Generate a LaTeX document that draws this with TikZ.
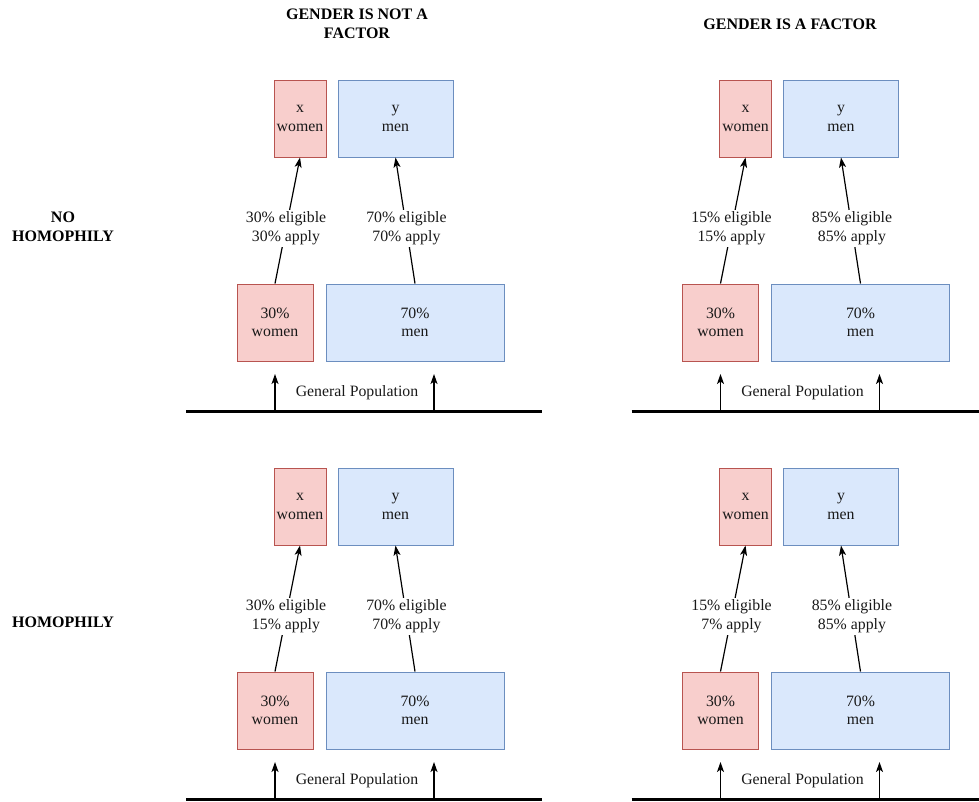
\documentclass[tikz,border=0pt]{standalone}
\usepackage{fontspec}
\setmainfont{Liberation Serif}
\usetikzlibrary{arrows.meta}
\definecolor{redfill}{HTML}{F8CECC}
\definecolor{redline}{HTML}{B85450}
\definecolor{bluefill}{HTML}{DAE8FC}
\definecolor{blueline}{HTML}{6C8EBF}
\tikzset{
  x=1pt, y=1pt,
  txt/.style={font=\fontsize{15.8}{18.5}\selectfont, align=center, text=black!90},
  hdr/.style={font=\fontsize{16}{18.5}\selectfont\bfseries, align=center},
  rbox/.style={draw=redline, fill=redfill, line width=1pt, inner sep=0pt, txt},
  bbox/.style={draw=blueline, fill=bluefill, line width=1pt, inner sep=0pt, txt},
  conn/.style={line width=1.2pt, -{Stealth[length=10pt,width=7pt,inset=2.5pt]}},
  lbl/.style={fill=white, inner sep=2pt, txt},
  ground/.style={line width=3pt},
}
\newcommand{\mypanel}[6]{%
  % #1 prefix, #2 dx, #3 dy, #4 women label, #5 men label, #6 line right end
  \begin{scope}[shift={(#2,#3)}]
    \node[rbox, minimum width=52pt, minimum height=77pt] (#1x) at (300,-118.5) {x\\women};
    \node[bbox, minimum width=115pt, minimum height=77pt] (#1y) at (395.5,-118.5) {y\\men};
    \node[rbox, minimum width=76pt, minimum height=77pt] (#1w) at (275,-322.5) {30\%\\women};
    \node[bbox, minimum width=178pt, minimum height=77pt] (#1m) at (415,-322.5) {70\%\\men};
    \draw[conn] (#1w.north) -- node[lbl, pos=0.44] {#4} (#1x.south);
    \draw[conn] (#1m.north) -- node[lbl, pos=0.44] {#5} (#1y.south);
    \coordinate (#1l) at (186,-411);
    \coordinate (#1r) at (#6,-411);
    \draw[ground] (#1l) -- (#1r);
    \coordinate (#1g1) at (275,-411);
    \coordinate (#1g2) at (434,-411);
    \coordinate (#1t1) at (275,-374);
    \coordinate (#1t2) at (434,-374);
    \draw[conn] (#1g1) -- (#1t1);
    \draw[conn] (#1g2) -- (#1t2);
    \node[txt] (#1gp) at (357,-393) {General Population};
  \end{scope}}
\begin{document}
\begin{tikzpicture}
\useasboundingbox (0,0) rectangle (979,-801);
\node[hdr] (h1) at (357,-24) {GENDER IS NOT A\\FACTOR};
\node[hdr] (h2) at (790,-24) {GENDER IS A FACTOR};
\node[hdr] (r1) at (63,-227) {NO\\HOMOPHILY};
\node[hdr] (r2) at (63,-622) {HOMOPHILY};
\mypanel{a}{0}{0}{30\% eligible\\30\% apply}{70\% eligible\\70\% apply}{542}
\mypanel{b}{445.5}{0}{15\% eligible\\15\% apply}{85\% eligible\\85\% apply}{533.5}
\mypanel{c}{0}{-388}{30\% eligible\\15\% apply}{70\% eligible\\70\% apply}{542}
\mypanel{d}{445.5}{-388}{15\% eligible\\7\% apply}{85\% eligible\\85\% apply}{533.5}
\end{tikzpicture}
\end{document}
